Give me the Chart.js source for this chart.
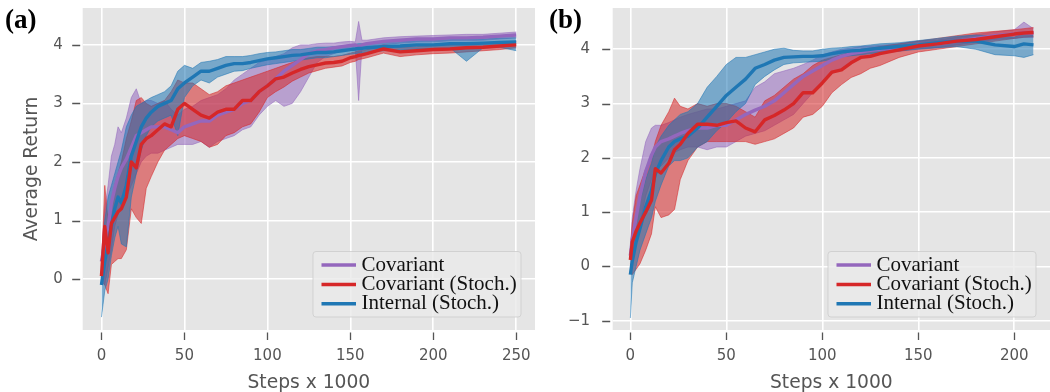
<!DOCTYPE html>
<html lang="en">
<head>
<meta charset="UTF-8" />
<title>Average Return vs Steps</title>
<script src="https://cdn.jsdelivr.net/npm/chart.js"></script>
<style>
  body { margin: 0; background: #fff; }
  #wrap { position: relative; width: 1050px; height: 392px; overflow: hidden; }
  #wrap canvas { position: absolute; top: 0; }
  .tag { position: absolute; top: 6px; font-family: "Liberation Serif", serif; font-weight: bold; font-size: 27px; line-height: 1; color: #000; }
</style>
</head>
<body>
<div id="wrap">
  <canvas id="chartA" width="540" height="392" style="left:0"></canvas>
  <canvas id="chartB" width="510" height="392" style="left:540px"></canvas>
  <div class="tag" style="left:5px">(a)</div>
  <div class="tag" style="left:549px">(b)</div>
</div>

<script>
  const SERIES = ['Covariant', 'Covariant (Stoch.)', 'Internal (Stoch.)'];
  const COLORS = ['#9467bd', '#d62728', '#1f77b4'];

  // ---- panel (a): steps x 1000
  const stepsA = [0,2,4,6,8,10,12, 15,18,21,24,27,30, 34,38,42,46,
    50,55,60,65,70,75,80,85,90,95,100,105,110,115,120,125,130,135,140,145,150,
    153,155,157, 160, 170,180,190,200,210,220,230,240,250];

  const covMeanA = [0.3,0.6,0.9,1.3,1.55,1.75,1.9, 2.05,2.25,2.45,2.5,2.55,2.6, 2.6,2.6,2.55,2.5,
    2.6,2.65,2.7,2.7,2.8,2.85,2.9,3.0,3.05,3.2,3.3,3.42,3.55,3.65,3.75,3.85,3.9,3.92,3.95,3.97,3.99,
    4.0,3.97,4.0, 4.02, 4.06,4.08,4.1,4.1,4.12,4.12,4.13,4.15,4.17];
  const covLoA = [0.1,-0.1,0.2,0.5,0.9,1.1,1.3, 1.4,1.6,1.8,2.0,2.1,2.15, 2.15,2.2,2.25,2.3,
    2.3,2.3,2.35,2.25,2.35,2.4,2.45,2.55,2.6,2.8,2.95,3.05,2.95,3.0,3.2,3.45,3.7,3.8,3.85,3.9,3.92,
    3.93,3.05,3.95, 3.96, 4.0,4.03,4.05,4.05,4.07,4.07,4.08,4.1,4.12];
  const covHiA = [0.4,1.2,1.6,2.1,2.3,2.6,2.5, 2.75,3.1,3.25,3.0,3.05,3.05, 3.0,3.05,2.9,2.8,
    2.9,2.95,3.05,3.1,3.15,3.25,3.4,3.5,3.6,3.7,3.75,3.8,3.85,3.95,4.0,4.0,4.02,4.03,4.03,4.05,4.06,
    4.05,4.4,4.08, 4.08, 4.12,4.14,4.15,4.16,4.17,4.18,4.18,4.2,4.22];

  const stoMeanA = [0.05,0.9,0.45,0.95,1.05,1.15,1.2, 1.4,2.0,1.9,2.3,2.4,2.45, 2.55,2.65,2.6,2.9,
    3.0,2.9,2.8,2.75,2.85,2.9,2.9,3.05,3.05,3.2,3.3,3.42,3.45,3.52,3.58,3.63,3.66,3.69,3.7,3.72,3.78,
    3.8,3.82,3.83, 3.85, 3.93,3.88,3.9,3.92,3.93,3.95,3.96,3.98,4.0];
  const stoLoA = [-0.05,-0.1,-0.25,0.25,0.3,0.35,0.35, 0.5,1.2,1.05,0.95,1.55,1.75, 2.0,2.2,2.3,2.4,
    2.45,2.4,2.35,2.25,2.3,2.45,2.5,2.6,2.65,2.85,3.1,3.2,3.28,3.38,3.45,3.52,3.56,3.6,3.62,3.64,3.7,
    3.72,3.75,3.76, 3.78, 3.86,3.8,3.83,3.85,3.86,3.88,3.9,3.92,3.95];
  const stoHiA = [0.2,1.6,1.0,1.3,1.6,1.8,2.0, 2.4,2.7,3.05,3.1,3.0,2.95, 3.0,3.05,3.2,3.4,
    3.35,3.35,3.25,3.15,3.2,3.3,3.35,3.4,3.45,3.5,3.55,3.6,3.65,3.7,3.75,3.78,3.8,3.8,3.8,3.82,3.86,
    3.88,3.9,3.9, 3.92, 4.0,3.96,3.97,3.99,4.0,4.02,4.03,4.04,4.06];

  const intMeanA = [-0.1,0.3,0.6,0.9,1.2,1.4,1.3, 1.6,2.1,2.35,2.6,2.75,2.85, 2.95,3.0,3.05,3.25,
    3.35,3.45,3.55,3.55,3.6,3.65,3.68,3.68,3.7,3.73,3.76,3.78,3.8,3.82,3.83,3.85,3.87,3.87,3.88,3.9,3.92,
    3.93,3.94,3.94, 3.95, 3.97,3.98,4.0,4.0,4.02,4.02,4.03,4.04,4.05];
  const intLoA = [-0.65,-0.2,0.0,0.4,0.7,0.9,0.6, 0.55,1.4,1.8,2.2,2.45,2.6, 2.7,2.75,2.8,2.45,
    3.1,3.3,3.4,3.35,3.45,3.5,3.55,3.56,3.6,3.63,3.66,3.68,3.7,3.72,3.74,3.76,3.78,3.78,3.8,3.82,3.84,
    3.85,3.86,3.86, 3.87, 3.9,3.91,3.93,3.93,3.95,3.72,3.95,3.96,3.9];
  const intHiA = [0.3,1.0,1.4,1.6,1.8,2.0,2.2, 2.6,2.8,2.95,3.0,3.05,3.1, 3.15,3.2,3.3,3.55,
    3.65,3.6,3.7,3.72,3.75,3.8,3.8,3.8,3.82,3.85,3.87,3.88,3.9,3.92,3.92,3.94,3.96,3.96,3.97,3.98,4.0,
    4.01,4.02,4.02, 4.03, 4.05,4.06,4.07,4.08,4.09,4.1,4.1,4.12,4.12];

  // ---- panel (b)
  const stepsB = [0,1,3,5,8,11,13,16,20,23,26,
    30,35,40,45,50,55,60,65,70,75,80,85,90,95,100,105,110,115,120,125,130,
    140,150,160,170,180,190,200, 205,210];

  const covMeanB = [0.2,0.5,0.9,1.3,1.75,2.05,2.2,2.3,2.35,2.4,2.45,
    2.5,2.55,2.55,2.6,2.6,2.7,2.8,2.88,2.95,3.05,3.2,3.35,3.5,3.6,3.7,3.8,3.87,3.92,3.95,3.98,4.0,
    4.03,4.08,4.1,4.15,4.2,4.25,4.28, 4.3,4.3];
  const covLoB = [0.0,0.1,0.5,0.8,1.3,1.6,1.8,1.85,2.0,2.1,2.15,
    2.2,2.2,2.15,2.2,2.2,2.3,2.4,2.45,2.5,2.6,2.7,2.8,3.0,3.2,3.4,3.55,3.65,3.75,3.85,3.9,3.93,
    3.96,4.01,4.03,4.08,4.13,4.18,4.2, 4.22,4.22];
  const covHiB = [0.4,0.9,1.4,1.8,2.3,2.55,2.6,2.6,2.65,2.7,2.75,
    2.8,2.85,2.9,2.9,2.95,3.0,3.05,3.3,3.4,3.55,3.6,3.65,3.72,3.8,3.9,3.95,4.0,4.02,4.05,4.06,4.07,
    4.1,4.15,4.17,4.22,4.27,4.32,4.36, 4.5,4.38];

  const stoMeanB = [0.12,0.45,0.65,0.8,1.0,1.22,1.8,1.72,1.9,2.15,2.25,
    2.45,2.62,2.62,2.6,2.65,2.68,2.55,2.48,2.7,2.78,2.88,3.0,3.2,3.2,3.38,3.58,3.62,3.75,3.85,3.87,3.92,
    3.99,4.06,4.1,4.15,4.18,4.23,4.28, 4.3,4.31];
  const stoLoB = [0.05,-0.15,-0.05,0.05,0.3,0.6,1.1,0.9,0.95,1.05,1.6,
    1.95,2.2,2.3,2.3,2.3,2.3,2.3,2.25,2.3,2.35,2.45,2.55,2.75,2.8,2.95,3.2,3.35,3.48,3.55,3.65,3.7,
    3.85,3.95,4.0,4.05,4.1,4.15,4.2, 4.22,4.23];
  const stoHiB = [0.3,0.8,1.3,1.5,1.8,2.0,2.3,2.6,2.85,3.1,2.95,
    2.9,3.0,2.95,3.0,3.0,2.95,2.85,2.75,3.05,3.15,3.3,3.45,3.55,3.7,3.8,3.85,3.9,3.95,4.0,4.02,4.05,
    4.1,4.15,4.2,4.25,4.3,4.33,4.36, 4.38,4.4];

  const intMeanB = [-0.15,0.1,0.45,0.7,1.1,1.4,1.7,1.95,2.2,2.3,2.35,
    2.4,2.55,2.75,2.95,3.15,3.3,3.45,3.65,3.72,3.8,3.85,3.86,3.87,3.87,3.88,3.92,3.95,3.97,3.98,4.0,4.02,
    4.05,4.08,4.12,4.15,4.15,4.08,4.05, 4.1,4.08];
  const intLoB = [-0.95,-0.3,0.0,0.3,0.6,0.9,1.2,1.5,1.85,1.95,1.95,
    2.0,2.2,2.3,2.5,2.65,2.85,3.0,3.35,3.5,3.62,3.72,3.75,3.76,3.77,3.78,3.82,3.86,3.88,3.9,3.92,3.94,
    3.97,4.0,4.03,4.05,4.0,3.9,3.88, 3.85,3.9];
  const intHiB = [0.3,0.5,0.9,1.2,1.6,1.9,2.2,2.4,2.6,2.7,2.8,
    2.85,3.0,3.3,3.5,3.72,3.85,3.85,3.9,3.95,4.0,4.02,3.98,3.97,3.97,4.0,4.02,4.03,4.05,4.06,4.08,4.1,
    4.12,4.16,4.2,4.24,4.26,4.25,4.22, 4.3,4.25];

  const tickFont = { family: 'DejaVu Sans', size: 15 };
  const titleFont = { family: 'DejaVu Sans', size: 18.7, lineHeight: 1 };
  const TEXT = '#555';

  function points(xs, ys) {
    return xs.map((x, i) => ({ x: x, y: ys[i] }));
  }

  function rgba(hex, a) {
    const n = parseInt(hex.slice(1), 16);
    return `rgba(${n >> 16}, ${(n >> 8) & 255}, ${n & 255}, ${a})`;
  }

  // scales ask for room around their labels; the box is placed by hand here
  function noPadding(s) {
    s.paddingTop = 0;
    s.paddingBottom = 0;
    s.paddingLeft = 0;
    s.paddingRight = 0;
  }

  const background = {
    id: 'background',
    beforeDraw(chart) {
      const { ctx, chartArea: a } = chart;
      ctx.save();
      ctx.fillStyle = '#e5e5e5';
      ctx.fillRect(a.left, a.top, a.right - a.left, a.bottom - a.top);
      ctx.restore();
    }
  };

  // short outside tick marks, detached a little from the axes box
  const tickMarks = {
    id: 'tickMarks',
    afterDraw(chart) {
      const { ctx, chartArea: a, scales } = chart;
      ctx.save();
      ctx.strokeStyle = '#555';
      ctx.lineWidth = 1.3;
      ctx.beginPath();
      scales.y.ticks.forEach(t => {
        const py = Math.round(scales.y.getPixelForValue(t.value)) + 0.5;
        ctx.moveTo(a.left - 10.5, py);
        ctx.lineTo(a.left - 2.5, py);
      });
      scales.x.ticks.forEach(t => {
        const px = Math.round(scales.x.getPixelForValue(t.value)) + 0.5;
        ctx.moveTo(px, a.bottom + 2.5);
        ctx.lineTo(px, a.bottom + 10);
      });
      ctx.stroke();
      ctx.restore();
    }
  };

  const boxLegend = {
    id: 'boxLegend',
    afterDraw(chart) {
      const { ctx, chartArea: a } = chart;
      const w = 208, h = 65.5;
      const x0 = a.right - 14 - w, y0 = a.bottom - 13 - h, r = 3;
      ctx.save();
      ctx.beginPath();
      ctx.moveTo(x0 + r, y0);
      ctx.arcTo(x0 + w, y0, x0 + w, y0 + h, r);
      ctx.arcTo(x0 + w, y0 + h, x0, y0 + h, r);
      ctx.arcTo(x0, y0 + h, x0, y0, r);
      ctx.arcTo(x0, y0, x0 + w, y0, r);
      ctx.closePath();
      ctx.fillStyle = 'rgba(234, 234, 234, 0.8)';
      ctx.fill();
      ctx.strokeStyle = 'rgba(204, 204, 204, 0.8)';
      ctx.lineWidth = 1;
      ctx.stroke();
      ctx.font = '21px "Liberation Serif", serif';
      ctx.textBaseline = 'middle';
      ctx.fillStyle = '#111';
      SERIES.forEach((name, k) => {
        const yy = y0 + 13.5 + k * 19.4;
        ctx.strokeStyle = COLORS[k];
        ctx.lineWidth = 3.5;
        ctx.beginPath();
        ctx.moveTo(x0 + 8.5, yy);
        ctx.lineTo(x0 + 43, yy);
        ctx.stroke();
        ctx.fillText(name, x0 + 48.5, yy);
      });
      ctx.restore();
    }
  };

  function panel(id, steps, series, cfg) {
    const datasets = [];
    // mean lines first so they end up on top (red, blue, purple)
    [1, 2, 0].forEach(k => {
      datasets.push({
        label: SERIES[k],
        data: points(steps, series[k].mean),
        borderColor: COLORS[k],
        borderWidth: 3.4,
        borderJoinStyle: 'round',
        pointRadius: 0,
        fill: false
      });
    });
    // bands: each upper edge fills down to the lower edge that follows it
    [2, 1, 0].forEach(k => {
      datasets.push({
        data: points(steps, series[k].hi),
        borderColor: rgba(COLORS[k], 0.55),
        backgroundColor: rgba(COLORS[k], 0.55),
        borderWidth: 1,
        pointRadius: 0,
        fill: '+1'
      });
      datasets.push({
        data: points(steps, series[k].lo),
        borderColor: rgba(COLORS[k], 0.55),
        borderWidth: 1,
        pointRadius: 0,
        fill: false
      });
    });

    return new Chart(document.getElementById(id), {
      type: 'line',
      data: { datasets: datasets },
      plugins: [background, tickMarks, boxLegend],
      options: {
        responsive: false,
        animation: false,
        events: [],
        layout: { padding: { left: 0, right: cfg.padRight, top: 8, bottom: 0 } },
        plugins: { legend: { display: false }, tooltip: { enabled: false } },
        scales: {
          x: {
            type: 'linear',
            min: cfg.xMin,
            max: cfg.xMax,
            afterFit: s => { s.height = 62; noPadding(s); },
            border: { display: false },
            grid: { color: '#fff', lineWidth: 1.6, drawTicks: false },
            ticks: { stepSize: 50, includeBounds: false, padding: 17.5, color: TEXT, font: tickFont, maxRotation: 0 },
            title: { display: true, text: 'Steps x 1000', color: TEXT, font: titleFont, padding: { top: 0, bottom: 0 } }
          },
          y: {
            min: cfg.yMin,
            max: cfg.yMax,
            afterFit: s => { s.width = cfg.yWidth; noPadding(s); },
            border: { display: false },
            grid: { color: '#fff', lineWidth: 1.6, drawTicks: false },
            ticks: {
              stepSize: 1,
              includeBounds: false,
              padding: cfg.yPad,
              color: TEXT,
              font: tickFont,
              callback: v => String(v).replace('-', '\u2212')
            },
            title: { display: cfg.yTitle, text: 'Average Return', color: TEXT, font: titleFont, padding: { top: 22.5, bottom: 0 } }
          }
        }
      }
    });
  }

  panel('chartA', stepsA, [
    { mean: covMeanA, lo: covLoA, hi: covHiA },
    { mean: stoMeanA, lo: stoLoA, hi: stoHiA },
    { mean: intMeanA, lo: intLoA, hi: intHiA }
  ], { xMin: -11.3, xMax: 261.3, yMin: -0.87, yMax: 4.63, yWidth: 82.7, yPad: 20, padRight: 5, yTitle: true });

  panel('chartB', stepsB, [
    { mean: covMeanB, lo: covLoB, hi: covHiB },
    { mean: stoMeanB, lo: stoLoB, hi: stoHiB },
    { mean: intMeanB, lo: intLoB, hi: intHiB }
  ], { xMin: -9.2, xMax: 218.6, yMin: -1.17, yMax: 4.76, yWidth: 72.7, yPad: 22.7, padRight: 0, yTitle: false });
</script>
</body>
</html>
